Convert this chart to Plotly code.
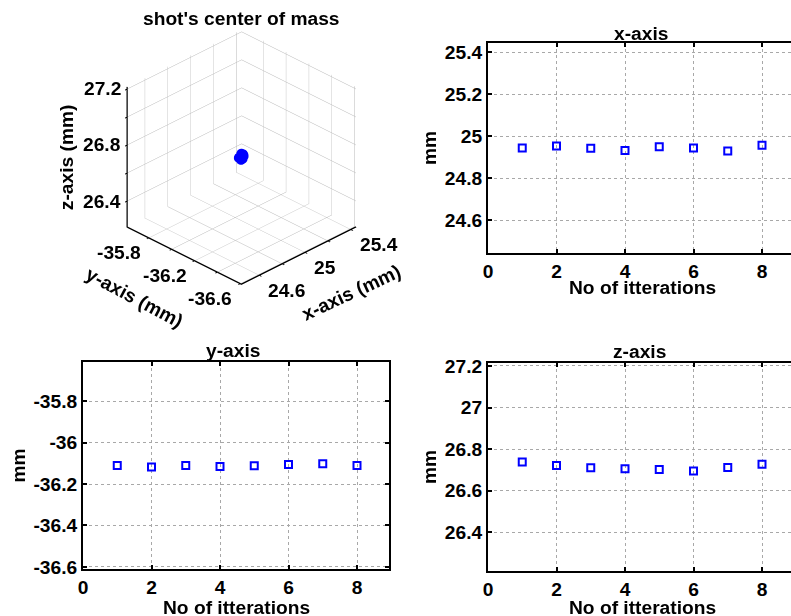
import plotly.graph_objects as go

# ---- data ----
iterations = [1, 2, 3, 4, 5, 6, 7, 8]
x_mm = [24.944, 24.954, 24.943, 24.933, 24.950, 24.944, 24.930, 24.957]
y_mm = [-36.110, -36.117, -36.110, -36.115, -36.112, -36.106, -36.102, -36.110]
z_mm = [26.738, 26.722, 26.711, 26.706, 26.702, 26.695, 26.712, 26.728]

x_ticks = [24.6, 24.8, 25.0, 25.2, 25.4]
y_ticks = [-36.6, -36.4, -36.2, -36.0, -35.8]
z_ticks = [26.4, 26.6, 26.8, 27.0, 27.2]
x_labeled = [24.6, 25.0, 25.4]
y_labeled = [-36.6, -36.2, -35.8]
z_labeled = [26.4, 26.8, 27.2]
iter_ticks = [0, 2, 4, 6, 8]

W, H = 791, 616
FONT = "Liberation Sans, Arial, sans-serif"
FS = 19.2
BLUE = "#0000FF"
PX_PER_ITER = 34.25


def mean(v):
    return sum(v) / len(v)


xr = [mean(x_mm) - 0.5, mean(x_mm) + 0.5]
yr = [mean(y_mm) - 0.5, mean(y_mm) + 0.5]
zr = [mean(z_mm) - 0.5, mean(z_mm) + 0.5]


def fmt(v):
    s = f"{v:.1f}"
    return s[:-2] if s.endswith(".0") else s


def dx(px):
    return px / W


def dy(py):
    return 1 - py / H


tickfont = dict(family=FONT, size=FS, color="black", weight="bold")

fig = go.Figure()

# 3D scatter
fig.add_trace(go.Scatter3d(
    x=x_mm, y=y_mm, z=z_mm, mode="markers",
    marker=dict(size=6, color=BLUE, symbol="circle", line=dict(width=0)),
    scene="scene", showlegend=False, hoverinfo="skip",
))

# 2D panels
for xs, ys, xa, ya in [(iterations, x_mm, "x", "y"), (iterations, y_mm, "x2", "y2"),
                       (iterations, z_mm, "x3", "y3")]:
    fig.add_trace(go.Scatter(x=xs, y=ys, mode="markers", xaxis=xa, yaxis=ya,
                             marker=dict(symbol="square-open", size=7, color=BLUE,
                                         line=dict(width=2, color=BLUE)),
                             showlegend=False))


def xaxis_cfg(l, r, anchor):
    return dict(domain=[dx(l), dx(r)], anchor=anchor, range=[0, (r - l) / PX_PER_ITER],
                tickvals=iter_ticks, ticktext=[str(t) for t in iter_ticks],
                ticks="inside", ticklen=4, tickwidth=1.5, tickcolor="black",
                showline=True, linewidth=2, linecolor="black", mirror="ticks",
                showgrid=True, gridcolor="#a8a8a8", gridwidth=1, griddash="dot",
                zeroline=False, tickfont=tickfont, automargin=False)


def yaxis_cfg(t, b, anchor, rng, ticks, mirror):
    return dict(domain=[dy(b), dy(t)], anchor=anchor, range=rng,
                tickvals=ticks, ticktext=[fmt(t_) for t_ in ticks],
                ticks="inside", ticklen=4, tickwidth=1.5, tickcolor="black",
                showline=True, linewidth=2, linecolor="black", mirror=mirror,
                showgrid=True, gridcolor="#a8a8a8", gridwidth=1, griddash="dot",
                zeroline=False, tickfont=tickfont, automargin=False,
                title=dict(text="mm", font=tickfont, standoff=3))


scene_axis = dict(
    showbackground=False, showgrid=True, gridcolor="#b8b8b8", gridwidth=1,
    showline=True, linecolor="black", linewidth=3, zeroline=False,
    ticks="outside", ticklen=3, tickcolor="black", tickwidth=2,
    showticklabels=False, showspikes=False, title=dict(text=""),
)

# 3D text as scene annotations (horizontal tick labels like the reference)
scene_ann = []
for v in z_labeled:
    scene_ann.append(dict(x=xr[0], y=yr[1], z=v, text=fmt(v), showarrow=False,
                          xanchor="right", yanchor="middle", xshift=-4, font=tickfont))
for v in y_labeled:
    scene_ann.append(dict(x=xr[0], y=v, z=zr[0], text=fmt(v), showarrow=False,
                          xanchor="right", yanchor="middle", xshift=-6, yshift=-15, font=tickfont))
for v in x_labeled:
    scene_ann.append(dict(x=v, y=yr[0], z=zr[0], text=fmt(v), showarrow=False,
                          xanchor="left", yanchor="middle", xshift=7, yshift=-15, font=tickfont))
scene_ann.append(dict(x=xr[0], y=yr[1], z=mean(zr), text="z-axis (mm)", showarrow=False,
                      xanchor="center", yanchor="middle", xshift=-60, textangle=-90, font=tickfont))
scene_ann.append(dict(x=xr[0], y=mean(yr), z=zr[0], text="y-axis (mm)", showarrow=False,
                      xanchor="center", yanchor="middle", xshift=-50, yshift=-42, textangle=28,
                      font=tickfont))
scene_ann.append(dict(x=mean(xr), y=yr[0], z=zr[0], text="x-axis (mm)", showarrow=False,
                      xanchor="center", yanchor="middle", xshift=53, yshift=-37, textangle=-25,
                      font=tickfont))

R = 1.9
AR = 1.03


def paper_text(text, px, py, angle=0):
    return dict(text=text, x=dx(px), y=dy(py), xref="paper", yref="paper", showarrow=False,
                font=tickfont, xanchor="center", yanchor="middle", textangle=angle)


fig.update_layout(
    width=W, height=H, margin=dict(l=0, r=0, t=0, b=0),
    paper_bgcolor="white", plot_bgcolor="white",
    font=dict(family=FONT, size=FS, color="black", weight="bold"),
    xaxis=xaxis_cfg(488, 791, "y"),
    yaxis=yaxis_cfg(43, 253, "x", xr, x_ticks, False),
    xaxis2=xaxis_cfg(83, 389, "y2"),
    yaxis2=yaxis_cfg(362, 569, "x2", yr, y_ticks, "ticks"),
    xaxis3=xaxis_cfg(488, 791, "y3"),
    yaxis3=yaxis_cfg(363, 571, "x3", zr, z_ticks, False),
    scene=dict(
        domain=dict(x=[0, dx(483)], y=[dy(314), 1]),
        xaxis=dict(scene_axis, range=xr, tickvals=x_ticks),
        yaxis=dict(scene_axis, range=yr, tickvals=y_ticks),
        zaxis=dict(scene_axis, range=zr, tickvals=z_ticks),
        aspectmode="manual", aspectratio=dict(x=AR, y=AR, z=AR),
        camera=dict(projection=dict(type="orthographic"),
                    eye=dict(x=-0.612 * R, y=-0.612 * R, z=0.5 * R),
                    up=dict(x=0, y=0, z=1), center=dict(x=0, y=0, z=0)),
        annotations=scene_ann,
    ),
    annotations=[
        paper_text("shot's center of mass", 241, 18),
        paper_text("x-axis", 641, 33),
        paper_text("y-axis", 233, 350),
        paper_text("z-axis", 639, 351),
        paper_text("No of itterations", 642, 288),
        paper_text("No of itterations", 237, 607),
        paper_text("No of itterations", 642, 607),
    ],
)

fig.write_html(
    "out.html",
    config={"displayModeBar": False},
    post_script="document.body.style.margin='0';document.body.style.overflow='hidden';",
)
